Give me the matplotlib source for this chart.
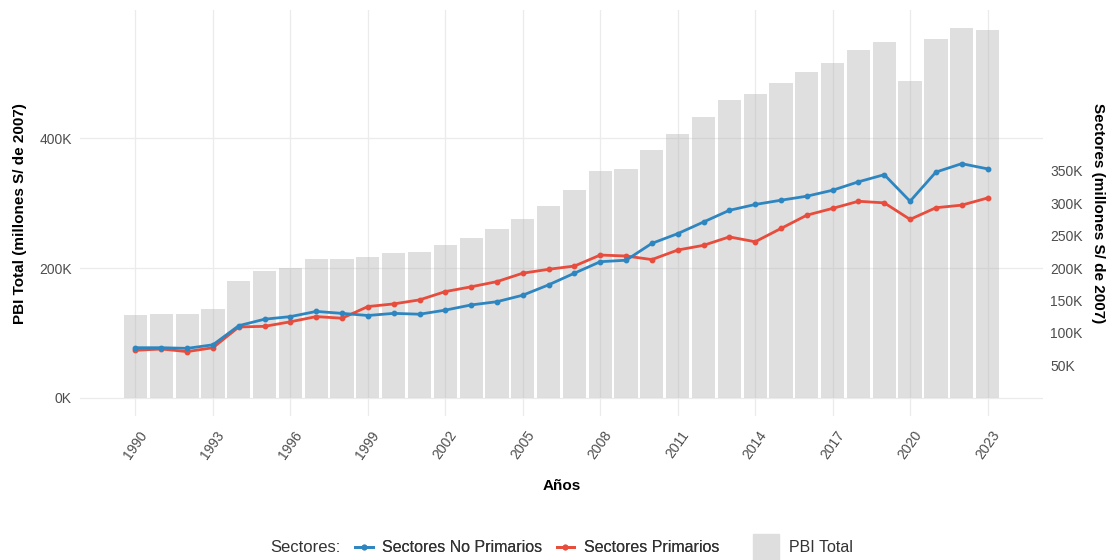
import matplotlib
matplotlib.use("Agg")
import matplotlib.pyplot as plt
from matplotlib.lines import Line2D
from matplotlib.ticker import FuncFormatter

plt.rcParams['font.family'] = ['Liberation Sans', 'DejaVu Sans']

# datos (millones S/ de 2007)
anios = list(range(1990, 2024))
pbi_total = [127700, 129000, 129000, 137000, 180000, 195000, 200000, 214000, 214000, 217000,
             222500, 224600, 235000, 246700, 260000, 275000, 296000, 320000, 350000, 353000,
             381500, 407000, 432800, 459500, 468700, 485000, 502600, 516000, 536000, 548000,
             488000, 554000, 570000, 568000]
no_primarios = [77000, 77000, 76000, 81500, 111000, 121000, 125000, 133000, 130000, 126700,
                130000, 128700, 135000, 143000, 148000, 158000, 174000, 192000, 209700, 212000,
                238000, 253000, 271000, 289000, 298000, 304600, 310800, 320000, 333000, 344000,
                303000, 348000, 361000, 353000]
primarios = [73000, 75000, 71000, 77000, 109000, 110000, 117000, 125000, 122500, 140500,
             144600, 150800, 163600, 171000, 179000, 192000, 198000, 203000, 220000, 218500,
             213000, 227700, 235000, 248000, 240500, 261000, 281500, 292000, 303000, 300500,
             275000, 293000, 297000, 308000]

x_ticks = list(range(1990, 2024, 3))
y_left_ticks = [0, 200000, 400000]
y_right_ticks = [50000, 100000, 150000, 200000, 250000, 300000, 350000]

azul = '#2E86C1'
rojo = '#E74C3C'

fig = plt.figure(figsize=(11.14, 5.6), dpi=100)
ax = fig.add_axes([0.0718, 0.257, 0.8645, 0.725])

ax.bar(anios, pbi_total, width=0.9, color='#B0B0B0', alpha=0.4, zorder=2)
ax.plot(anios, no_primarios, color=azul, lw=2.0, marker='o', ms=3.2, zorder=4)
ax.plot(anios, primarios, color=rojo, lw=2.0, marker='o', ms=3.2, zorder=3)

ax.set_xlim(1987.85, 2025.15)
ax.set_ylim(-28500, 598000)
ax.set_xticks(x_ticks)
ax.set_xticklabels([str(a) for a in x_ticks], rotation=55, ha='center', va='top')
ax.set_yticks(y_left_ticks)
fmt = FuncFormatter(lambda v, p: f"{int(round(v / 1000))}K")
ax.yaxis.set_major_formatter(fmt)
ax.tick_params(axis='both', length=0, colors='#4D4D4D', labelsize=10)
ax.tick_params(axis='x', pad=9)
ax.tick_params(axis='y', pad=6)
ax.grid(True, color='#EBEBEB', lw=0.9, zorder=0)
ax.set_axisbelow(True)
for s in ax.spines.values():
    s.set_visible(False)

ax.set_xlabel('Años', fontsize=11, fontweight='bold', labelpad=12)
ax.set_ylabel('PBI Total (millones S/ de 2007)', fontsize=11, fontweight='bold', labelpad=9)

ax2 = ax.twinx()
ax2.set_ylim(ax.get_ylim())
ax2.set_yticks(y_right_ticks)
ax2.yaxis.set_major_formatter(fmt)
ax2.tick_params(axis='y', length=0, colors='#4D4D4D', labelsize=10, pad=5)
for s in ax2.spines.values():
    s.set_visible(False)
ax2.set_ylabel('Sectores (millones S/ de 2007)', fontsize=11, fontweight='bold',
               rotation=270, labelpad=16)

# leyenda: titulo + lineas + barras
ley_y = 1 - 548 / 560
fig.text(270 / 1114, ley_y, 'Sectores:', fontsize=12, color='#333333', va='center')
h_lineas = [
    Line2D([], [], color=azul, lw=2.0, marker='o', ms=3.2),
    Line2D([], [], color=rojo, lw=2.0, marker='o', ms=3.2),
]
leg1 = fig.legend(h_lineas, ['Sectores No Primarios', 'Sectores Primarios'],
                  loc='center left', bbox_to_anchor=(355 / 1114, ley_y), ncol=2,
                  frameon=False, fontsize=11.5, handlelength=1.1, columnspacing=0.9,
                  handletextpad=0.6, borderpad=0, borderaxespad=0, labelcolor='#333333')
h_pbi = [Line2D([], [], color='#DEDEDE', lw=0, marker='s', ms=19)]
leg2 = fig.legend(h_pbi, ['PBI Total'], loc='center left',
                  bbox_to_anchor=(752 / 1114, ley_y), frameon=False, fontsize=11.5,
                  handlelength=1.8, handletextpad=0.5, borderpad=0, borderaxespad=0,
                  labelcolor='#333333')
fig.add_artist(leg1)

fig.savefig('out.png', dpi=100)
